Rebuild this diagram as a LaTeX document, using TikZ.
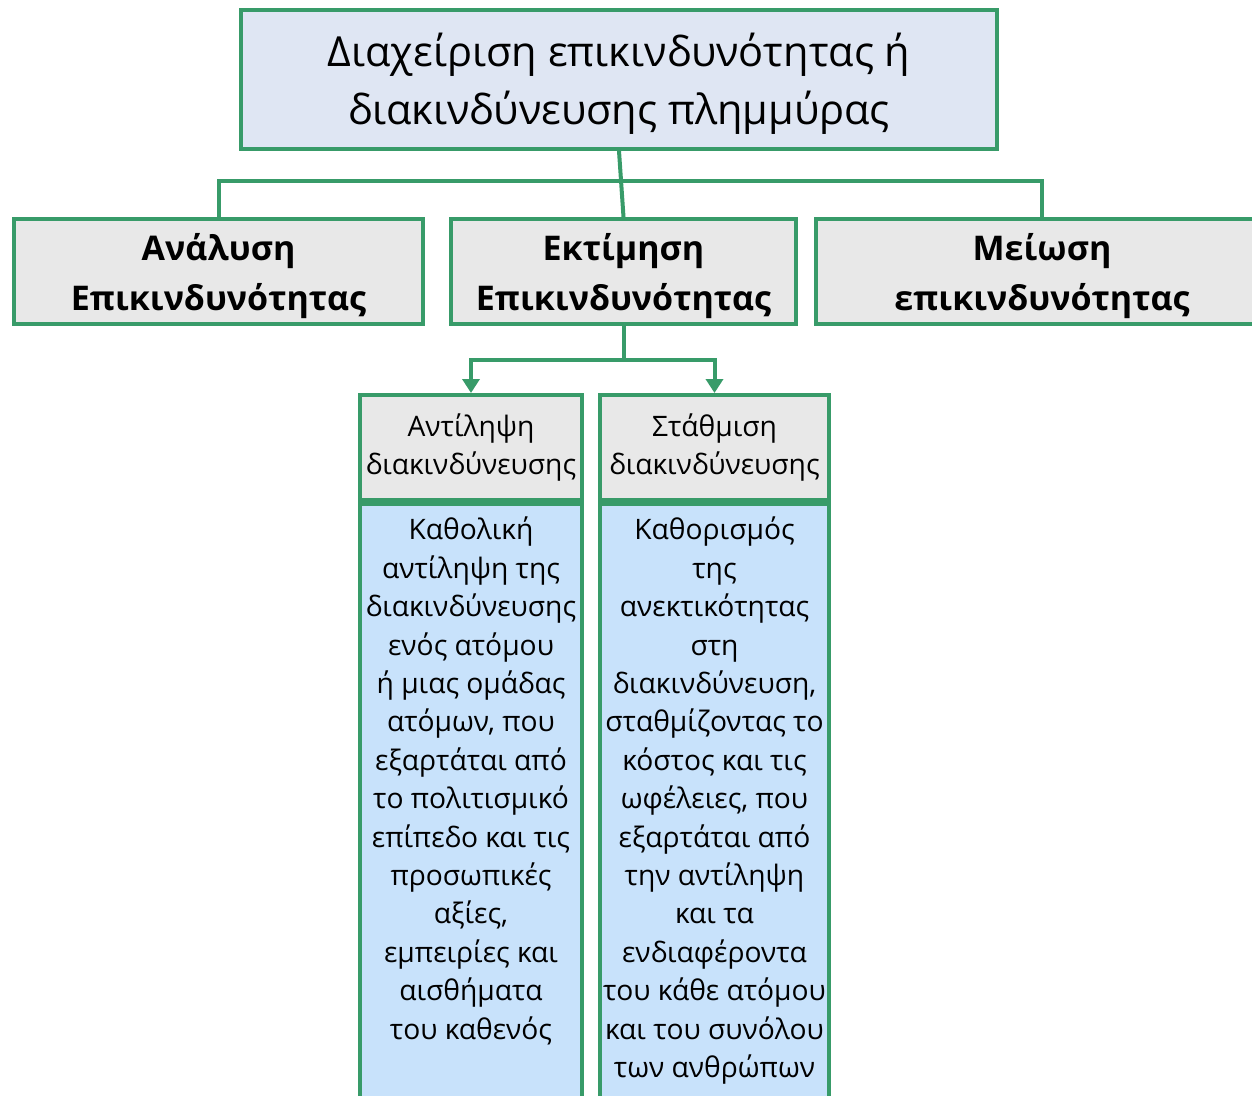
\documentclass[tikz,border=0pt]{standalone}
\usepackage{fontspec}
\setmainfont{Open Sans}
\usetikzlibrary{arrows.meta,positioning}
\definecolor{frGreen}{HTML}{389B69}
\definecolor{frTop}{HTML}{DFE6F3}
\definecolor{frGrey}{HTML}{E8E8E8}
\definecolor{frBlue}{HTML}{C8E2FB}
\newcommand{\upstrut}[1]{\rule{0pt}{#1}}
\tikzset{
  box/.style={draw=frGreen,line width=4pt,inner sep=0pt,align=center,
              text=black},
  topbox/.style={box,fill=frTop,minimum width=756pt,minimum height=139pt,
                 font=\fontsize{41.5}{58}\selectfont},
  mainbox/.style={box,fill=frGrey,minimum height=105pt,
                  font=\fontsize{34}{50}\selectfont\bfseries},
  headbox/.style={box,fill=frGrey,minimum height=105pt,
                  font=\fontsize{28.2}{37.5}\selectfont},
  bodybox/.style={box,fill=frBlue,minimum height=640pt},
  bodytxt/.style={inner sep=0pt,align=center,
                  font=\fontsize{28.2}{38.4}\selectfont},
  conn/.style={draw=frGreen,line width=4pt},
  arr/.style={conn,-{Triangle[width=17pt,length=14pt]}},
}
\begin{document}
\begin{tikzpicture}[x=1pt,y=-1pt]
  \useasboundingbox (0,0) rectangle (1252,1095);
  \clip (0,0) rectangle (1252,1095);
  % top level
  \node[topbox] (top) at (619,79.5) {\upstrut{41pt}Διαχείριση επικινδυνότητας ή\\ διακινδύνευσης πλημμύρας};
  \node[mainbox,minimum width=409pt] (ana) at (218.5,271.5) {\upstrut{37pt}Ανάλυση\\ Επικινδυνότητας};
  \node[mainbox,minimum width=345pt] (ekt) at (623.5,271.5) {\upstrut{37pt}Εκτίμηση\\ Επικινδυνότητας};
  \node[mainbox,minimum width=452pt] (mei) at (1042,271.5) {\upstrut{37pt}Μείωση\\ επικινδυνότητας};
  \coordinate (hbar) at (620,181);
  \draw[conn] (top.south) -- (ekt.north);
  \draw[conn] (ana.north) |- (hbar) -| (mei.north);
  % second level
  \node[headbox,minimum width=222pt] (ant) at (471,447.5) {Αντίληψη\\ διακινδύνευσης};
  \node[headbox,minimum width=229pt] (sta) at (714.5,447.5) {Στάθμιση\\ διακινδύνευσης};
  \node[bodybox,minimum width=222pt,anchor=north] (antBody) at (ant.south) {};
  \node[bodybox,minimum width=229pt,anchor=north] (staBody) at (sta.south) {};
  \draw[arr] (ekt.south) -- ++(0,34) -| (ant.north);
  \draw[arr] (ekt.south) -- ++(0,34) -| (sta.north);
  \node[bodytxt,anchor=north] (antTxt) at ([yshift=-15pt]antBody.north)
    {Καθολική\\ αντίληψη της\\ διακινδύνευσης\\ ενός ατόμου\\ ή μιας ομάδας\\
     ατόμων, που\\ εξαρτάται από\\ το πολιτισμικό\\ επίπεδο και τις\\ προσωπικές\\
     αξίες,\\ εμπειρίες και\\ αισθήματα\\ του καθενός};
  \node[bodytxt,anchor=north] (staTxt) at ([yshift=-15pt]staBody.north)
    {Καθορισμός\\ της\\ ανεκτικότητας\\ στη\\ διακινδύνευση,\\ σταθμίζοντας το\\
     κόστος και τις\\ ωφέλειες, που\\ εξαρτάται από\\ την αντίληψη\\ και τα\\
     ενδιαφέροντα\\ του κάθε ατόμου\\ και του συνόλου\\ των ανθρώπων};
\end{tikzpicture}
\end{document}
